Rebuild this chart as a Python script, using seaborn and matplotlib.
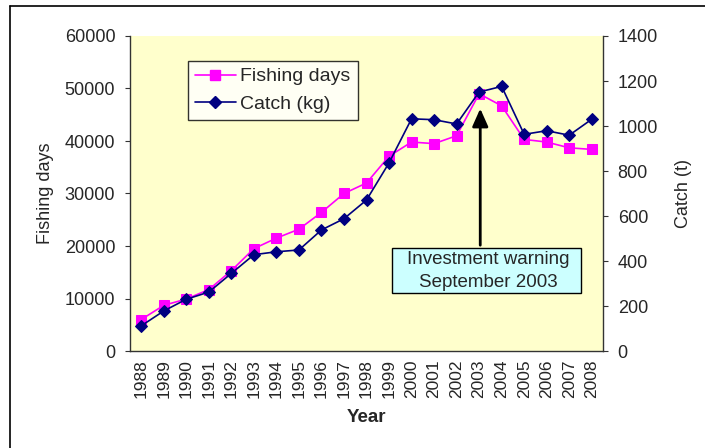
import pandas as pd
import matplotlib.pyplot as plt
import seaborn as sns
from matplotlib.patches import Rectangle
from matplotlib.lines import Line2D

sns.set_theme(style="white")
plt.rcParams['font.family'] = ['Liberation Sans', 'DejaVu Sans']

# Dados
anos = [str(a) for a in range(1988, 2009)]
dias_pesca = [6000, 8700, 9900, 11700, 15300, 19500, 21500, 23200, 26400, 30000,
              32000, 37100, 39800, 39500, 41000, 49000, 46700, 40300, 39800, 38700, 38400]
captura = [112, 178, 230, 262, 345, 428, 441, 449, 538, 588,
           671, 836, 1032, 1028, 1009, 1151, 1176, 963, 979, 959, 1030]

df = pd.DataFrame({"idx": range(len(anos)), "Ano": anos,
                   "Fishing days": dias_pesca, "Catch": captura})

cor_dias = "#FF00FF"
cor_captura = "#000080"

fig = plt.figure(figsize=(7.05, 4.48), dpi=100)
ax = fig.add_axes([130 / 705, 1 - 351 / 448, 473 / 705, 315 / 448])
ax2 = ax.twinx()

sns.lineplot(data=df, x="idx", y="Fishing days", ax=ax, color=cor_dias, marker="s",
             markersize=7, markeredgecolor=cor_dias, linewidth=1.2)
sns.lineplot(data=df, x="idx", y="Catch", ax=ax2, color=cor_captura, marker="D",
             markersize=6.5, markeredgecolor=cor_captura, linewidth=1.2)

ax.set_facecolor("#FFFFCC")
ax2.patch.set_visible(False)

ax.set_xlim(-0.5, len(anos) - 0.5)
ax.set_ylim(0, 60000)
ax2.set_ylim(0, 1400)
ax.set_yticks(range(0, 60001, 10000))
ax2.set_yticks(range(0, 1401, 200))

# Rótulos nas categorias, marcas entre elas
ax.set_xticks(range(len(anos)))
ax.set_xticklabels(anos, rotation=90, fontsize=12.5)
ax.set_xticks([i + 0.5 for i in range(len(anos) - 1)], minor=True)
ax.tick_params(axis="x", which="major", length=0, pad=6)
ax.tick_params(axis="x", which="minor", direction="in", length=4, width=0.8, color="#333333")
ax.tick_params(axis="y", direction="out", length=3.6, width=0.8, color="#333333",
               labelsize=13, pad=7, left=True)
ax2.tick_params(axis="y", direction="out", length=3.6, width=0.8, color="#333333",
                labelsize=13, pad=7, right=True)

for a in (ax, ax2):
    a.spines["top"].set_visible(False)
    for s in ("left", "right", "bottom"):
        a.spines[s].set_color("#333333")
        a.spines[s].set_linewidth(1.0)
ax.spines["right"].set_visible(False)
ax2.spines["left"].set_visible(False)
ax2.spines["bottom"].set_visible(False)

ax.set_xlabel("Year", fontsize=13.5, fontweight="bold", labelpad=8)
ax.set_ylabel("Fishing days", fontsize=13, labelpad=8)
ax2.set_ylabel("Catch (t)", fontsize=13, labelpad=12)
ax.grid(False)
ax2.grid(False)

# Caixa de aviso e seta
ax.add_patch(Rectangle((11.14, 11050), 8.4, 8570, facecolor="#CCFFFF",
                       edgecolor="black", linewidth=1.0, zorder=5))
ax.text(15.4, 15300, "Investment warning\nSeptember 2003", ha="center", va="center",
        fontsize=13.5, linespacing=1.45, zorder=6)
ax.annotate("", xy=(15.05, 46700), xytext=(15.05, 19620),
            arrowprops=dict(arrowstyle="-|>,head_length=0.9,head_width=0.4",
                            color="black", lw=2), zorder=6)

# Legenda
handles = [
    Line2D([], [], color=cor_dias, marker="s", markersize=7, linewidth=1.2, label="Fishing days"),
    Line2D([], [], color=cor_captura, marker="D", markersize=6.5, linewidth=1.2, label="Catch (kg)"),
]
leg = ax2.legend(handles=handles, loc="upper left", bbox_to_anchor=(0.1226, 0.9206),
                 fontsize=14, frameon=True, fancybox=False, borderpad=0.35,
                 handlelength=2.1, handletextpad=0.25, labelspacing=0.5, borderaxespad=0)
leg.get_frame().set_edgecolor("black")
leg.get_frame().set_linewidth(1.0)
leg.get_frame().set_facecolor("white")

# Moldura da figura (só esquerda e topo visíveis)
fig.add_artist(Line2D([10 / 705, 10 / 705], [0, 1 - 6 / 448], color="black", linewidth=1.2,
                      transform=fig.transFigure))
fig.add_artist(Line2D([10 / 705, 1], [1 - 6 / 448, 1 - 6 / 448], color="black", linewidth=1.2,
                      transform=fig.transFigure))

fig.savefig("out.png", dpi=100, facecolor="white")
plt.close(fig)
